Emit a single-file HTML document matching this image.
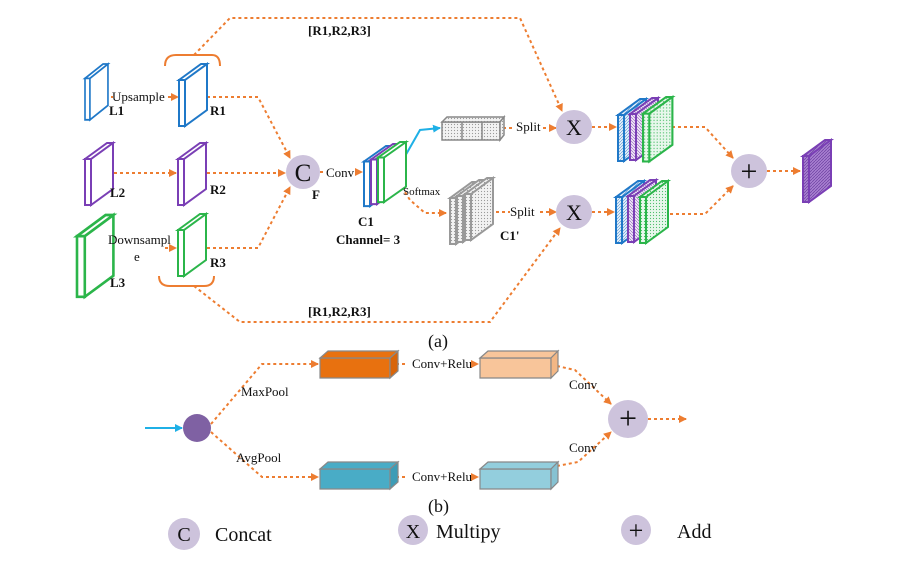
<!DOCTYPE html>
<html><head><meta charset="utf-8"><style>
html,body{margin:0;padding:0;background:#fff;}
svg{display:block;font-family:"Liberation Serif",serif;}
</style></head><body>
<svg width="899" height="567" viewBox="0 0 899 567" xmlns="http://www.w3.org/2000/svg">
<defs>
<marker id="a" markerWidth="8" markerHeight="8" refX="7" refY="4" orient="auto" markerUnits="userSpaceOnUse"><path d="M0,0 L8,4 L0,8 Z" fill="#ed7d31"/></marker>
<marker id="b" markerWidth="8" markerHeight="8" refX="7" refY="4" orient="auto" markerUnits="userSpaceOnUse"><path d="M0,0 L8,4 L0,8 Z" fill="#1fb0e6"/></marker>
<path id="p" d="M0,16 L6,16 L6,62 L0,62 Z M6,16 L28,0 L28,46 L6,62 Z M0,16 L22,0 L28,0 L6,16 Z"/>
<pattern id="hb" width="3" height="3" patternUnits="userSpaceOnUse"><rect width="3" height="3" fill="#e6f0fa"/><path d="M0,3 L3,0" stroke="#4a90d0" stroke-width="0.6"/></pattern>
<pattern id="hp" width="3" height="3" patternUnits="userSpaceOnUse"><rect width="3" height="3" fill="#efe6f7"/><path d="M0,0 L3,3" stroke="#8a5bb8" stroke-width="0.6"/></pattern>
<pattern id="hg" width="3" height="3" patternUnits="userSpaceOnUse"><rect width="3" height="3" fill="#e8f7ec"/><circle cx="1.5" cy="1.5" r="0.6" fill="#4cbf6a"/></pattern>
<pattern id="hk" width="3" height="3" patternUnits="userSpaceOnUse"><rect width="3" height="3" fill="#f2f2f2"/><circle cx="1.5" cy="1.5" r="0.6" fill="#999"/></pattern>
<pattern id="hv" width="3" height="3" patternUnits="userSpaceOnUse"><rect width="3" height="3" fill="#a77fd0"/><path d="M0,3 L3,0" stroke="#6b3fa0" stroke-width="0.7"/></pattern>
</defs>
<g fill="none" stroke="#ed7d31" stroke-width="2" stroke-dasharray="3,3">
<path d="M194,55 L230,18 L520,18 L562,111" marker-end="url(#a)"/>
<path d="M194,286 L240,322 L490,322 L560,228" marker-end="url(#a)"/>
<path d="M93,97 L113,97 M168,97 L178,97" marker-end="url(#a)"/>
<path d="M207,97 L258,97 L290,158" marker-end="url(#a)"/>
<path d="M102,173 L176,173" marker-end="url(#a)"/>
<path d="M207,173 L285,173" marker-end="url(#a)"/>
<path d="M102,248 L108,248 M165,248 L176,248" marker-end="url(#a)"/>
<path d="M207,248 L258,248 L290,187" marker-end="url(#a)"/>
<path d="M320,172 L325,172 M356,172 L362,172" marker-end="url(#a)"/>
<path d="M392,172 L410,200 L425,213 L446,213"  marker-end="url(#a)"/>
<path d="M503,128 L515,128 M543,128 L556,128" marker-end="url(#a)"/>
<path d="M490,212 L510,212 M540,212 L556,212" marker-end="url(#a)"/>
<path d="M592,127 L616,127" marker-end="url(#a)"/>
<path d="M592,212 L614,212" marker-end="url(#a)"/>
<path d="M672,127 L705,127 L733,158" marker-end="url(#a)"/>
<path d="M670,214 L705,214 L733,186" marker-end="url(#a)"/>
<path d="M767,171 L800,171" marker-end="url(#a)"/>
<path d="M211,424 L262,364 L318,364" marker-end="url(#a)"/>
<path d="M211,432 L262,477 L318,477" marker-end="url(#a)"/>
<path d="M390,364 L407,364 M472,364 L478,364" marker-end="url(#a)"/>
<path d="M390,477 L407,477 M472,477 L478,477" marker-end="url(#a)"/>
<path d="M557,366 L575,370 L611,404" marker-end="url(#a)"/>
<path d="M557,466 L578,462 L611,432" marker-end="url(#a)"/>
<path d="M648,419 L686,419" marker-end="url(#a)"/>
</g>
<path d="M145,428 L182,428" stroke="#1fb0e6" stroke-width="2" marker-end="url(#b)"/>
<path d="M396,172 L420,130 L440,128" stroke="#1fb0e6" stroke-width="2" fill="none" marker-end="url(#b)"/>
<g fill="none" stroke="#ed7d31" stroke-width="2">
<path d="M165,66 Q165,55 176,55 L212,55 Q220,55 220,66"/>
<path d="M159,276 Q159,286 170,286 L204,286 Q214,286 214,276"/>
</g>
<g fill="#fff" stroke-width="2">
<use href="#p" stroke="#1f78c8" transform="translate(85,64) scale(0.82,0.9)"/>
<use href="#p" stroke="#1f78c8" transform="translate(179,64)"/>
<use href="#p" stroke="#7a3fb5" transform="translate(85,143)"/>
<use href="#p" stroke="#7a3fb5" transform="translate(178,143)"/>
<use href="#p" stroke="#2bb54a" transform="translate(77,215) scale(1.3,1.32)"/>
<use href="#p" stroke="#2bb54a" transform="translate(178,214)"/>
<use href="#p" stroke="#1f78c8" transform="translate(364,146) scale(1,0.97)"/>
<use href="#p" stroke="#7a3fb5" transform="translate(371,144) scale(1,0.97)"/>
<use href="#p" stroke="#2bb54a" transform="translate(378,142) scale(1,0.97)"/>
<use href="#p" stroke="#999" fill="url(#hk)" transform="translate(450,182)"/>
<use href="#p" stroke="#999" fill="url(#hk)" transform="translate(457,180)"/>
<use href="#p" stroke="#999" fill="url(#hk)" transform="translate(465,178)"/>
<use href="#p" stroke="#1f78c8" fill="url(#hb)" transform="translate(618,99)"/>
<use href="#p" stroke="#7a3fb5" fill="url(#hp)" transform="translate(630,98)"/>
<use href="#p" stroke="#2bb54a" fill="url(#hg)" transform="translate(643,97) scale(1.05,1.04)"/>
<use href="#p" stroke="#1f78c8" fill="url(#hb)" transform="translate(616,181)"/>
<use href="#p" stroke="#7a3fb5" fill="url(#hp)" transform="translate(628,180)"/>
<use href="#p" stroke="#2bb54a" fill="url(#hg)" transform="translate(640,181)"/>
<use href="#p" stroke="#7a3fb5" fill="url(#hv)" transform="translate(803,140)"/>
</g>
<g stroke="#888" stroke-width="1.5" fill="url(#hk)">
<path d="M442,122 L500,122 L500,140 L442,140 Z M462,122 L462,140 M482,122 L482,140"/>
<path d="M442,122 L447,117 L504,117 L500,122 Z"/>
<path d="M500,122 L504,117 L504,135 L500,140 Z"/>
</g>
<g stroke="#888" stroke-width="1.2">
<path d="M320,358 L390,358 L390,378 L320,378 Z" fill="#e8710f"/>
<path d="M320,358 L328,351 L398,351 L390,358 Z" fill="#e8710f"/>
<path d="M390,358 L398,351 L398,371 L390,378 Z" fill="#d8650a"/>
<path d="M480,358 L551,358 L551,378 L480,378 Z" fill="#f8c59a"/>
<path d="M480,358 L488,351 L558,351 L551,358 Z" fill="#f8c59a"/>
<path d="M551,358 L558,351 L558,371 L551,378 Z" fill="#f3b785"/>
<path d="M320,469 L390,469 L390,489 L320,489 Z" fill="#49acc6"/>
<path d="M320,469 L328,462 L398,462 L390,469 Z" fill="#49acc6"/>
<path d="M390,469 L398,462 L398,482 L390,489 Z" fill="#3d9cb6"/>
<path d="M480,469 L551,469 L551,489 L480,489 Z" fill="#93cedd"/>
<path d="M480,469 L488,462 L558,462 L551,469 Z" fill="#93cedd"/>
<path d="M551,469 L558,462 L558,482 L551,489 Z" fill="#86c2d2"/>
</g>
<g fill="#cdc3dc">
<circle cx="303" cy="172" r="17"/>
<ellipse cx="574" cy="127" rx="18" ry="17"/>
<ellipse cx="574" cy="212" rx="18" ry="17"/>
<ellipse cx="749" cy="171" rx="18" ry="17"/>
<ellipse cx="628" cy="419" rx="20" ry="19"/>
<circle cx="184" cy="534" r="16"/>
<circle cx="413" cy="530" r="15"/>
<circle cx="636" cy="530" r="15"/>
</g>
<circle cx="197" cy="428" r="14" fill="#7f61a3"/>
<g fill="#111" font-size="13">
<text x="112" y="101">Upsample</text>
<text x="108" y="244">Downsampl</text>
<text x="134" y="261">e</text>
<text x="326" y="177">Conv</text>
<text x="403" y="195" font-size="11">Softmax</text>
<text x="516" y="131">Split</text>
<text x="510" y="216">Split</text>
<text x="412" y="368">Conv+Relu</text>
<text x="412" y="481">Conv+Relu</text>
<text x="241" y="396">MaxPool</text>
<text x="236" y="462">AvgPool</text>
<text x="569" y="389">Conv</text>
<text x="569" y="452">Conv</text>
</g>
<g fill="#111" font-size="13" font-weight="bold">
<text x="109" y="115">L1</text>
<text x="210" y="115">R1</text>
<text x="110" y="197">L2</text>
<text x="210" y="194">R2</text>
<text x="110" y="287">L3</text>
<text x="210" y="267">R3</text>
<text x="312" y="199">F</text>
<text x="358" y="226">C1</text>
<text x="336" y="244">Channel= 3</text>
<text x="500" y="240">C1'</text>
<text x="308" y="35">[R1,R2,R3]</text>
<text x="308" y="316">[R1,R2,R3]</text>
</g>
<g fill="#111" font-size="22" text-anchor="middle">
<text x="303" y="181" font-size="25">C</text>
<text x="574" y="135">X</text>
<text x="574" y="220">X</text>
<text x="749" y="181" font-size="30">+</text>
<text x="628" y="429" font-size="32">+</text>
<text x="184" y="541" font-size="20">C</text>
<text x="413" y="538" font-size="20">X</text>
<text x="636" y="539" font-size="26">+</text>
</g>
<g fill="#111" font-size="20">
<text x="428" y="347" font-size="18">(a)</text>
<text x="428" y="512" font-size="18">(b)</text>
<text x="215" y="541">Concat</text>
<text x="436" y="538">Multipy</text>
<text x="677" y="538">Add</text>
</g>
</svg>
</body></html>
